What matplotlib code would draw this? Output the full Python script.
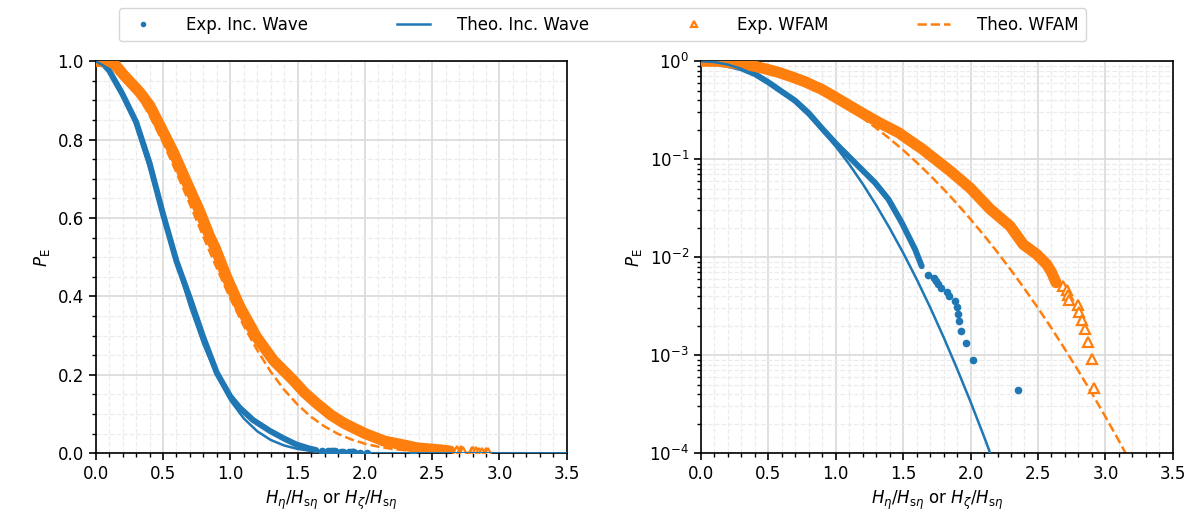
import numpy as np
import matplotlib
matplotlib.use("Agg")
import matplotlib.pyplot as plt
from matplotlib.lines import Line2D
from matplotlib.ticker import MultipleLocator, LogLocator, NullFormatter

exp_inc_x = [0.0, 0.05, 0.1, 0.2, 0.3, 0.4, 0.5, 0.6, 0.7, 0.8, 0.9, 1.0,
             1.07, 1.168, 1.292, 1.391, 1.49, 1.589, 1.638]
exp_inc_p = [1.0, 0.995, 0.976, 0.915, 0.845, 0.74, 0.61, 0.49, 0.395, 0.295,
             0.205, 0.145, 0.116, 0.085, 0.0575, 0.039, 0.0225, 0.012, 0.0081]
# largest individual waves
exp_inc_tail_x = [1.683, 1.729, 1.745, 1.761, 1.779, 1.823, 1.838, 1.885,
                  1.898, 1.91, 1.915, 1.93, 1.967, 2.016, 2.354]
exp_inc_tail_p = [0.00664, 0.0062, 0.00576, 0.00531, 0.00487, 0.00443, 0.00399,
                  0.00354, 0.0031, 0.00266, 0.00221, 0.00177, 0.00133,
                  0.000886, 0.000443]

# experimental WFAM
exp_wfam_x = [0.0, 0.131, 0.205, 0.329, 0.403, 0.49, 0.577, 0.676, 0.775, 0.849,
              0.886, 0.973, 1.072, 1.196, 1.32, 1.468, 1.55, 1.642, 1.75, 1.848,
              1.996, 2.145, 2.293, 2.391, 2.491, 2.528, 2.565, 2.602, 2.634]
exp_wfam_p = [1.0, 0.996, 0.966, 0.92, 0.886, 0.827, 0.768, 0.691, 0.615, 0.551,
              0.525, 0.449, 0.373, 0.296, 0.237, 0.186, 0.155, 0.127, 0.097,
              0.076, 0.051, 0.031, 0.0208, 0.0135, 0.0107, 0.0095, 0.00845,
              0.00695, 0.0055]
exp_wfam_tail_x = [2.688, 2.713, 2.722, 2.73, 2.797, 2.802, 2.829, 2.849,
                   2.871, 2.898, 2.916]
exp_wfam_tail_p = [0.00506, 0.0046, 0.00414, 0.00368, 0.00322, 0.00276,
                   0.0023, 0.00184, 0.00138, 0.00092, 0.00046]

# theoretical curves, read at 0.1 steps
theo_x = [0.0, 0.1, 0.2, 0.3, 0.4, 0.5, 0.6, 0.7, 0.8, 0.9, 1.0, 1.1, 1.2,
          1.3, 1.4, 1.5, 1.6, 1.7, 1.8, 1.9, 2.0, 2.1, 2.2, 2.3, 2.4, 2.5,
          2.6, 2.7, 2.8, 2.9, 3.0, 3.1, 3.2, 3.3, 3.4, 3.5]
theo_inc_p = [1.0, 0.980, 0.923, 0.835, 0.726, 0.607, 0.487, 0.375, 0.278,
              0.198, 0.135, 0.0889, 0.0561, 0.0340, 0.0198, 0.0111, 0.00598,
              0.00309, 0.00153, 0.000728, 0.000335, 0.000148, 6.3e-5, 2.5e-5,
              1.0e-5, 3.7e-6, 1.3e-6, 4.6e-7, 1.5e-7, 5e-8, 1.5e-8, 4.5e-9,
              1.3e-9, 3.5e-10, 9e-11, 2.2e-11]
theo_wfam_p = [1.0, 0.991, 0.964, 0.920, 0.862, 0.793, 0.716, 0.635, 0.552,
               0.472, 0.395, 0.325, 0.263, 0.208, 0.162, 0.124, 0.0929, 0.0684,
               0.0495, 0.0351, 0.0244, 0.0167, 0.0112, 0.00738, 0.00477,
               0.00303, 0.00189, 0.00115, 0.000692, 0.000408, 0.000236,
               0.000134, 7.5e-5, 4.1e-5, 2.2e-5, 1.15e-5]

blue = "#1f77b4"
orange = "#ff7f0e"

plt.rcParams["font.size"] = 12
fig = plt.figure(figsize=(11.98, 5.32), dpi=100)
ax1 = fig.add_axes([0.0799, 0.148, 0.3932, 0.737])
ax2 = fig.add_axes([0.585, 0.148, 0.394, 0.737])

for ax in (ax1, ax2):
    # dense runs of markers drawn as a thick band, sparse extremes as markers
    ax.plot(exp_inc_x, exp_inc_p, color=blue, lw=4.3, solid_capstyle="round",
            solid_joinstyle="round", zorder=3)
    ax.plot(exp_inc_tail_x, exp_inc_tail_p, "o", color=blue, ms=4.5, zorder=3)
    ax.plot(theo_x, theo_inc_p, "-", color=blue, lw=1.8, zorder=4)
    ax.plot(exp_wfam_x, exp_wfam_p, color=orange, lw=8, solid_capstyle="round",
            solid_joinstyle="round", zorder=3)
    ax.plot(exp_wfam_tail_x, exp_wfam_tail_p, "^", color=orange, mfc="white",
            mew=1.6, ms=7.5, zorder=3)
    ax.plot(theo_x, theo_wfam_p, "--", color=orange, lw=1.8, zorder=2)
    ax.set_xlim(0, 3.5)
    ax.xaxis.set_major_locator(MultipleLocator(0.5))
    ax.xaxis.set_minor_locator(MultipleLocator(0.1))
    ax.grid(True, which="major", color="#dcdcdc", lw=1.3)
    ax.grid(True, which="minor", color="#ececec", lw=0.9, ls="--")
    ax.set_axisbelow(True)
    ax.tick_params(which="major", length=5, width=1.2)
    ax.tick_params(which="minor", length=3, width=1.0)
    for s in ax.spines.values():
        s.set_linewidth(1.2)
    ax.set_xlabel(r"$H_\eta/H_{\mathrm{s}\eta}$ or $H_\zeta/H_{\mathrm{s}\eta}$")
    ax.set_ylabel(r"$P_\mathrm{E}$")

ax1.set_ylim(0, 1)
ax1.yaxis.set_major_locator(MultipleLocator(0.2))
ax1.yaxis.set_minor_locator(MultipleLocator(0.05))

ax2.set_yscale("log")
ax2.set_ylim(1e-4, 1)
ax2.yaxis.set_major_locator(LogLocator(base=10, numticks=10))
ax2.yaxis.set_minor_locator(LogLocator(base=10, subs=np.arange(2, 10), numticks=10))
ax2.yaxis.set_minor_formatter(NullFormatter())

handles = [Line2D([], [], ls="none", marker=".", color=blue, ms=6),
           Line2D([], [], color=blue, lw=1.8),
           Line2D([], [], ls="none", marker="^", color=orange, mfc="white", mew=1.6, ms=5),
           Line2D([], [], color=orange, lw=1.8, ls="--")]
labels = ["Exp. Inc. Wave", "Theo. Inc. Wave", "Exp. WFAM", "Theo. WFAM"]
fig.legend(handles, labels, loc="upper center", ncol=4, bbox_to_anchor=(0.503, 1.0),
           columnspacing=5.3, handletextpad=1.6, handlelength=2.0,
           borderpad=0.45, fancybox=True, edgecolor="#cccccc")

fig.savefig("out.png", dpi=100)
